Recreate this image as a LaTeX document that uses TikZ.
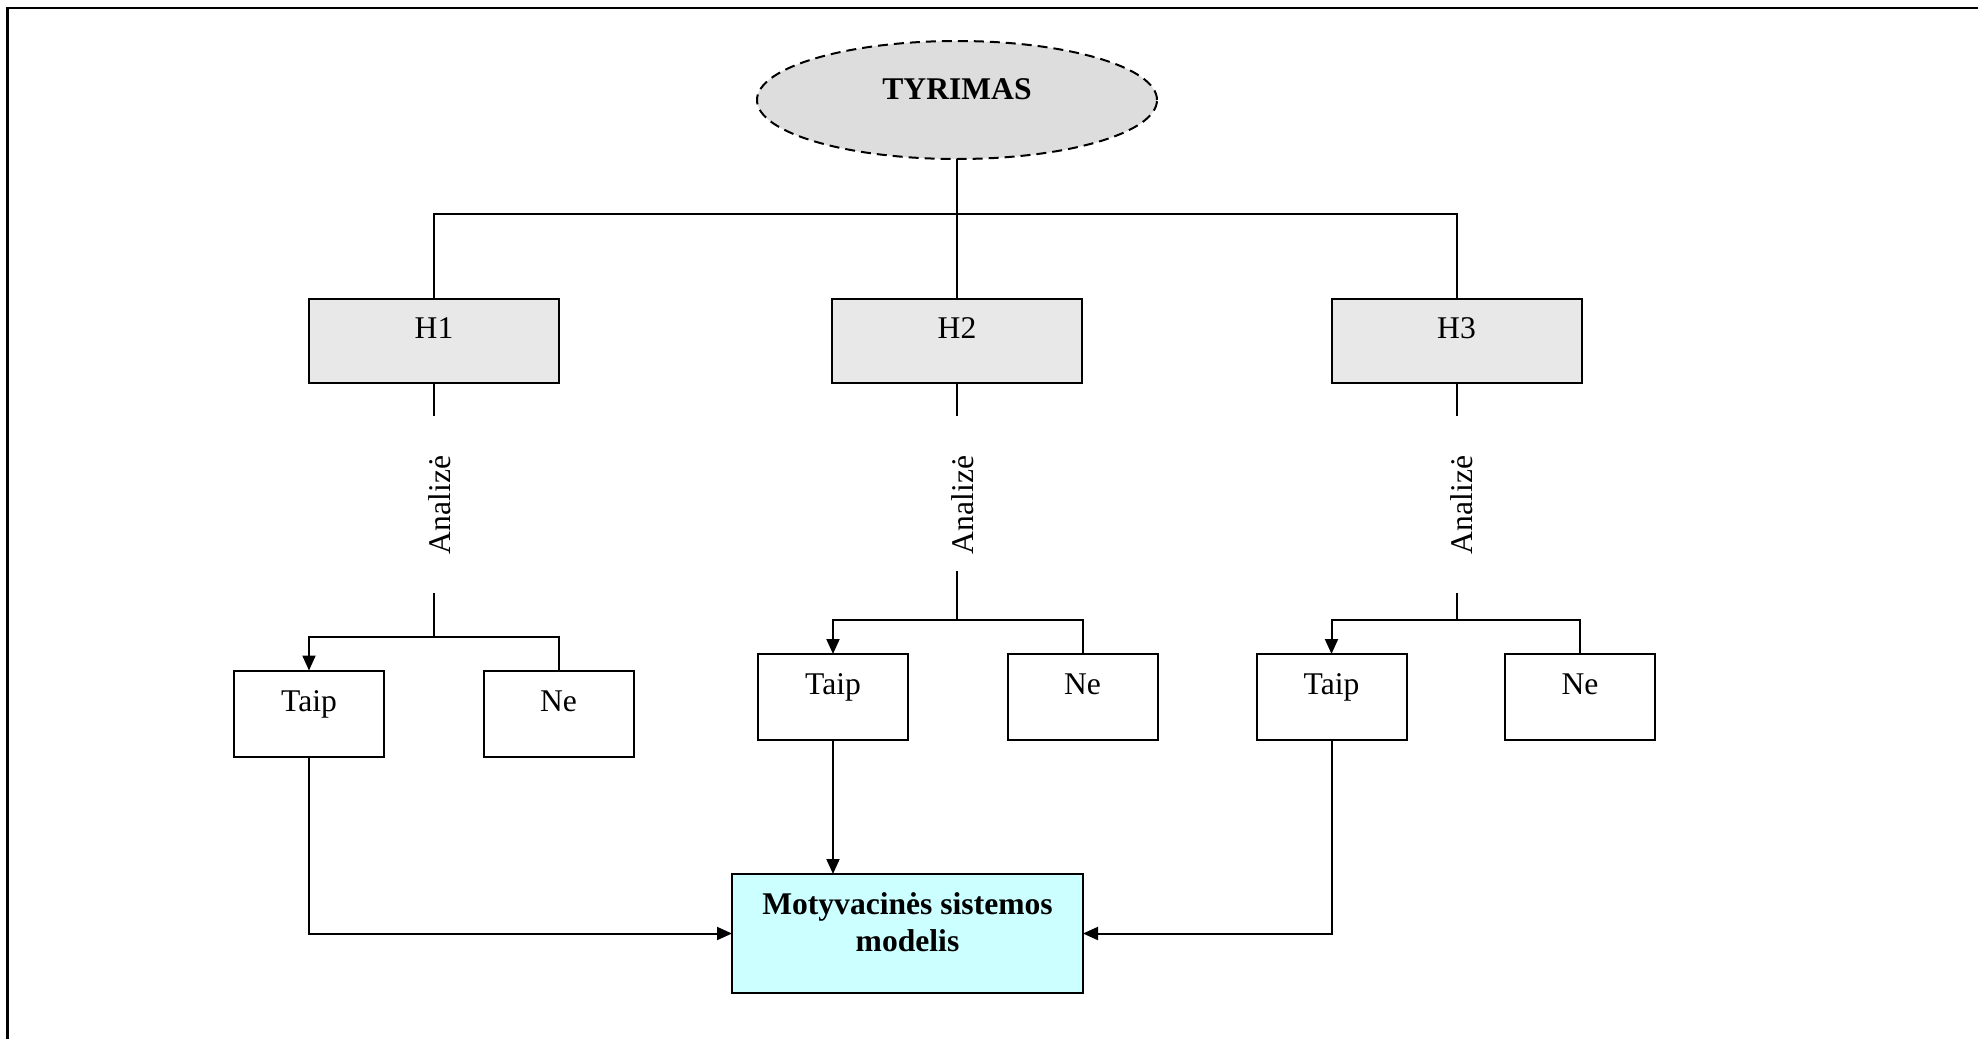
\documentclass[tikz,border=0pt]{standalone}
\usepackage{fontspec}
\setmainfont{Liberation Serif}
\usetikzlibrary{shapes.geometric,arrows.meta}

\definecolor{egray}{RGB}{221,221,221}
\definecolor{hgray}{RGB}{232,232,232}
\definecolor{mcyan}{RGB}{204,255,255}

\begin{document}
\begin{tikzpicture}[x=0.5pt,y=-0.5pt,
  every node/.style={inner sep=0pt,outer sep=0pt},
  txt/.style={font=\fontsize{15.8}{18.5}\selectfont},
  btxt/.style={font=\fontsize{15.8}{18.5}\selectfont\bfseries},
  hyp/.style={draw,line width=1pt,fill=hgray,minimum width=125pt,minimum height=42pt},
  ansbox/.style={draw,line width=1pt,fill=white,minimum width=75pt,minimum height=43pt},
  link/.style={line width=1pt},
  arr/.style={link,-{Triangle[length=7.5pt,width=6.5pt]}}]

\useasboundingbox (0,0) rectangle (1978,1039);

% page frame (top and left edges)
\draw[line width=1.35pt] (7.5,1039) -- (7.5,8) -- (1978,8);

% root
\node[ellipse,draw,dashed,dash pattern=on 5pt off 3pt,line width=1pt,fill=egray,
      minimum width=200pt,minimum height=59pt] (tyr) at (957,100) {};
\node[btxt,anchor=base] (tyrt) at (957,99) {TYRIMAS};

% hypotheses
\node[hyp] (h1) at (434,341) {};
\node[hyp] (h2) at (957,341) {};
\node[hyp] (h3) at (1456.5,341) {};
\node[txt,anchor=base] (h1t) at (434,338) {H1};
\node[txt,anchor=base] (h2t) at (957,338) {H2};
\node[txt,anchor=base] (h3t) at (1456.5,338) {H3};

\coordinate (bus) at (957,214);
\draw[link] (tyr.south) -- (bus);
\draw[link] (h1.north) |- (bus) -| (h3.north);
\draw[link] (bus) -- (h2.north);

% analysis labels
\node[txt,rotate=90,anchor=base] (a1) at (450,505) {Analizė};
\node[txt,rotate=90,anchor=base] (a2) at (973,505) {Analizė};
\node[txt,rotate=90,anchor=base] (a3) at (1472.5,505) {Analizė};

\coordinate (a1top) at (434,416);
\coordinate (a1bot) at (434,593);
\coordinate (s1) at (434,637);
\coordinate (a2top) at (957,416);
\coordinate (a2bot) at (957,571);
\coordinate (s2) at (957,620);
\coordinate (a3top) at (1456.5,416);
\coordinate (a3bot) at (1456.5,593);
\coordinate (s3) at (1456.5,620);

% answers
\node[ansbox] (t1) at (309,713.5) {};
\node[ansbox] (n1) at (558.5,713.5) {};
\node[ansbox] (t2) at (833,697) {};
\node[ansbox] (n2) at (1082.5,697) {};
\node[ansbox] (t3) at (1331.5,697) {};
\node[ansbox] (n3) at (1580,697) {};
\node[txt,anchor=base] (t1t) at (309,711) {Taip};
\node[txt,anchor=base] (n1t) at (558.5,711) {Ne};
\node[txt,anchor=base] (t2t) at (833,694) {Taip};
\node[txt,anchor=base] (n2t) at (1082.5,694) {Ne};
\node[txt,anchor=base] (t3t) at (1331.5,694) {Taip};
\node[txt,anchor=base] (n3t) at (1580,694) {Ne};

\draw[link] (h1.south) -- (a1top);
\draw[link] (a1bot) -- (s1);
\draw[arr] (s1) -| (t1.north);
\draw[link] (s1) -| (n1.north);

\draw[link] (h2.south) -- (a2top);
\draw[link] (a2bot) -- (s2);
\draw[arr] (s2) -| (t2.north);
\draw[link] (s2) -| (n2.north);

\draw[link] (h3.south) -- (a3top);
\draw[link] (a3bot) -- (s3);
\draw[arr] (s3) -| (t3.north);
\draw[link] (s3) -| (n3.north);

% result
\node[draw,line width=1pt,fill=mcyan,minimum width=175.5pt,minimum height=59.5pt] (m) at (907.5,933.5) {};
\node[btxt,anchor=base] (mt1) at (907.5,914) {Motyvacinės sistemos};
\node[btxt,anchor=base] (mt2) at (907.5,951) {modelis};

\draw[arr] (t1.south) |- (m.west);
\draw[arr] (t2.south) -- (t2.south |- m.north);
\draw[arr] (t3.south) |- (m.east);
\end{tikzpicture}
\end{document}
